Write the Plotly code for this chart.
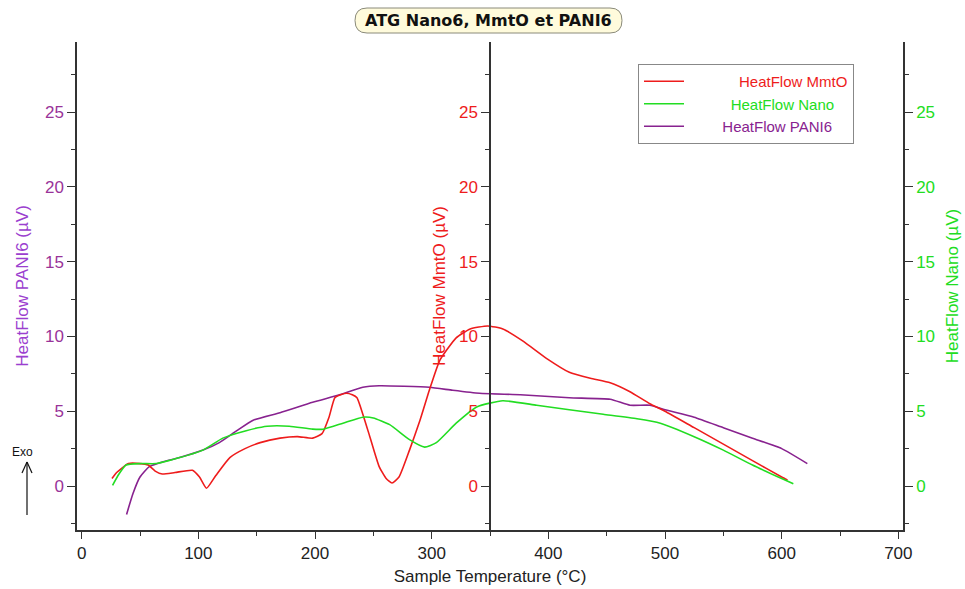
import plotly.graph_objects as go

# ---- data ----
t_mmto = [26, 30, 40, 50, 57, 63, 69, 80, 95, 101, 107, 115, 127, 140, 153, 170, 185, 198, 206, 212, 217, 222, 227, 232, 236, 241, 247, 255, 261, 266, 272, 281, 290, 298, 307, 321, 333, 348, 361, 378, 399, 418, 436, 453, 470, 487, 500, 525, 550, 575, 600, 605]
hf_mmto = [0.5, 0.9, 1.5, 1.5, 1.4, 1.0, 0.8, 0.9, 1.05, 0.6, -0.15, 0.7, 1.9, 2.5, 2.9, 3.2, 3.3, 3.2, 3.5, 4.6, 5.9, 6.1, 6.2, 6.1, 5.9, 4.8, 3.3, 1.3, 0.5, 0.2, 0.6, 2.4, 4.4, 6.4, 8.4, 9.9, 10.5, 10.7, 10.5, 9.7, 8.5, 7.6, 7.2, 6.9, 6.3, 5.5, 5.0, 3.9, 2.8, 1.7, 0.6, 0.4]

t_nano = [26.5, 32, 38, 50, 64, 84, 104, 121, 141, 159, 178, 198, 207, 224, 241, 250, 264, 281, 294, 304, 321, 339, 361, 390, 418, 447, 476, 496, 525, 550, 575, 600, 610]
hf_nano = [0.05, 0.8, 1.4, 1.5, 1.5, 1.9, 2.4, 3.2, 3.7, 4.0, 4.0, 3.8, 3.8, 4.2, 4.6, 4.55, 4.1, 3.1, 2.6, 2.9, 4.2, 5.3, 5.7, 5.4, 5.1, 4.8, 4.5, 4.2, 3.3, 2.4, 1.4, 0.5, 0.15]

t_pani = [38.5, 44, 50, 58, 69, 84, 104, 118, 133, 147, 170, 198, 221, 241, 255, 298, 318, 341, 376, 418, 453, 470, 487, 500, 525, 550, 575, 600, 622]
hf_pani = [-1.9, -0.5, 0.6, 1.3, 1.6, 1.9, 2.4, 2.9, 3.7, 4.4, 4.9, 5.6, 6.1, 6.6, 6.7, 6.6, 6.4, 6.2, 6.1, 5.9, 5.8, 5.4, 5.4, 5.1, 4.6, 3.9, 3.2, 2.5, 1.5]

x_ticks = [0, 100, 200, 300, 400, 500, 600, 700]
y_ticks = [0, 5, 10, 15, 20, 25]

RED = "#ee1c1c"
GREEN = "#22dd22"
PURPLE = "#88228f"
PURPLE_T = "#9b3fcf"
AX = "#333333"
FONT = "Liberation Sans, Arial, sans-serif"
NB = "&nbsp;"

W, H = 965, 589
ML, MR, MT, MB = 77, 62, 42, 59
PW, PH = W - ML - MR, H - MT - MB


def px(x):
    return (x - ML) / PW


def py(y):
    return (H - MB - y) / PH


fig = go.Figure()
line_kw = dict(width=1.6, shape="spline", smoothing=0.5)
fig.add_trace(go.Scatter(x=t_mmto, y=hf_mmto, mode="lines", yaxis="y2",
                         line=dict(color=RED, **line_kw),
                         name=NB * 12 + f"<span style='color:{RED}'>HeatFlow MmtO</span>"))
fig.add_trace(go.Scatter(x=t_nano, y=hf_nano, mode="lines", yaxis="y3",
                         line=dict(color=GREEN, **line_kw),
                         name=NB * 10 + f"<span style='color:{GREEN}'>HeatFlow Nano</span>"))
fig.add_trace(go.Scatter(x=t_pani, y=hf_pani, mode="lines", yaxis="y",
                         line=dict(color=PURPLE, **line_kw),
                         name=NB * 8 + f"<span style='color:{PURPLE}'>HeatFlow PANI6</span>"))

yr = [-2.94, 29.68]
common_y = dict(range=yr, tickvals=y_ticks, showgrid=False, zeroline=False,
                showline=True, linecolor=AX, linewidth=1.5, ticks="outside",
                ticklen=8, tickcolor=AX, automargin=False,
                minor=dict(dtick=2.5, ticks="outside", ticklen=4, tickcolor=AX))

fig.update_layout(
    width=W, height=H,
    margin=dict(l=ML, r=MR, t=MT, b=MB),
    paper_bgcolor="white", plot_bgcolor="white",
    font=dict(family=FONT, size=16),
    showlegend=True,
    legend=dict(x=px(638), y=py(64), xanchor="left", yanchor="top",
                bgcolor="white", bordercolor="#888888", borderwidth=1,
                font=dict(size=15), itemwidth=40, tracegroupgap=0),
    xaxis=dict(range=[-4, 704], tickvals=x_ticks, showgrid=False, zeroline=False,
               showline=True, linecolor=AX, linewidth=1.5, ticks="outside",
               ticklen=7, tickcolor=AX, tickfont=dict(size=17, color="#222"),
               automargin=False,
               minor=dict(dtick=50, ticks="outside", ticklen=4, tickcolor=AX),
               title=dict(text="Sample Temperature (°C)", font=dict(size=17, color="#222"), standoff=8)),
    yaxis=dict(**common_y, side="left",
               tickfont=dict(size=17, color="#993399"),
               title=dict(text="HeatFlow PANI6 (µV)", font=dict(size=17, color=PURPLE_T), standoff=12)),
    yaxis2=dict(**common_y, overlaying="y", side="left", anchor="free", position=0.5,
                tickfont=dict(size=17, color=RED),
                title=dict(text="HeatFlow MmtO (µV)", font=dict(size=17, color=RED), standoff=8)),
    yaxis3=dict(**common_y, overlaying="y", side="right", anchor="x",
                tickfont=dict(size=17, color=GREEN),
                title=dict(text="HeatFlow Nano (µV)", font=dict(size=17, color=GREEN), standoff=12)),
)

# rounded title box
x0, x1, y0, y1, r = 355, 622, 8, 33, 12
path = (f"M {px(x0 + r)},{py(y0)} L {px(x1 - r)},{py(y0)} "
        f"Q {px(x1)},{py(y0)} {px(x1)},{py((y0 + y1) / 2)} "
        f"Q {px(x1)},{py(y1)} {px(x1 - r)},{py(y1)} "
        f"L {px(x0 + r)},{py(y1)} "
        f"Q {px(x0)},{py(y1)} {px(x0)},{py((y0 + y1) / 2)} "
        f"Q {px(x0)},{py(y0)} {px(x0 + r)},{py(y0)} Z")
fig.add_shape(type="path", xref="paper", yref="paper", path=path,
              fillcolor="#fffbdc", line=dict(color="#8a8a7a", width=1))
fig.add_annotation(xref="paper", yref="paper", x=px(488), y=py(20.5),
                   xanchor="center", yanchor="middle",
                   text="<b>ATG Nano6, MmtO et PANI6</b>", showarrow=False,
                   font=dict(size=16, color="#111", family="DejaVu Sans, Verdana, sans-serif"))

# Exo arrow
fig.add_annotation(xref="paper", yref="paper", x=px(22), y=py(452),
                   xanchor="center", yanchor="middle",
                   text="Exo", showarrow=False, font=dict(size=12, color="#111"))
for (a, b, c, d) in [(27, 515, 27, 462), (27, 462, 22, 473), (27, 462, 32, 473)]:
    fig.add_shape(type="line", xref="paper", yref="paper",
                  x0=px(a), y0=py(b), x1=px(c), y1=py(d),
                  line=dict(color="#111", width=1.2))

fig.write_html("out.html")
